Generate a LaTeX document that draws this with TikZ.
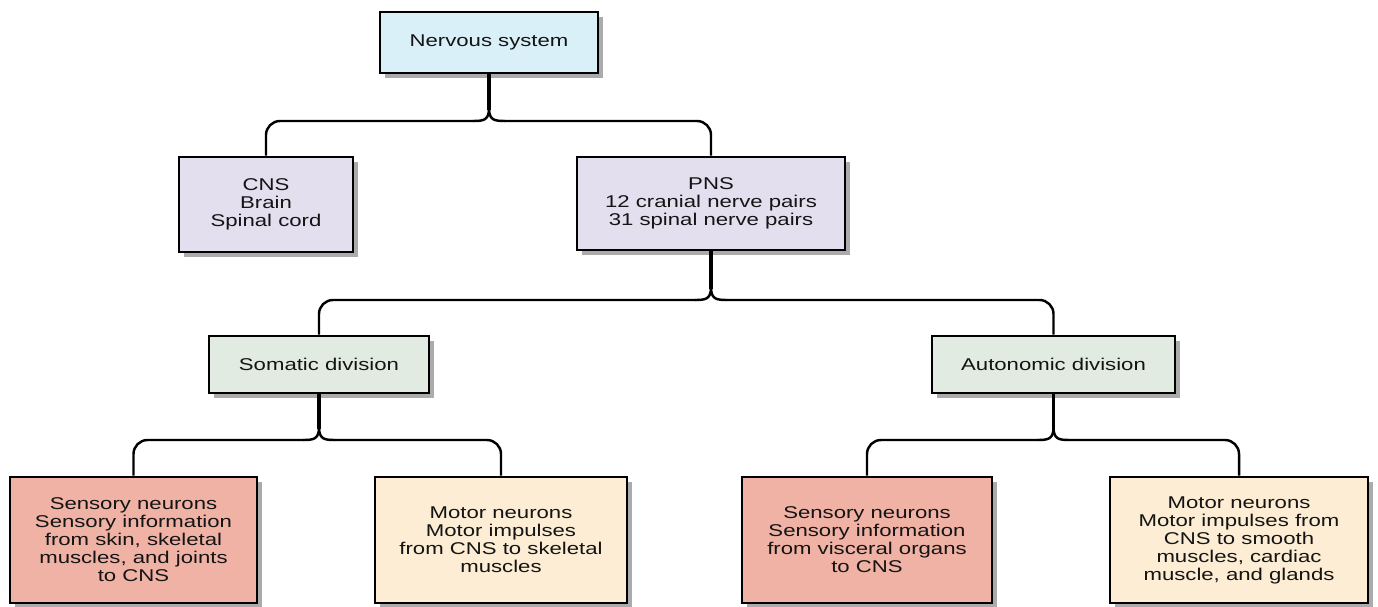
\documentclass[tikz,border=0pt]{standalone}
\usepackage{fontspec}
\setmainfont{Liberation Sans}[FakeStretch=1.3]
\usetikzlibrary{shadows}
\definecolor{nsblue}{RGB}{218,240,248}
\definecolor{cnslilac}{RGB}{227,223,238}
\definecolor{divgreen}{RGB}{226,235,225}
\definecolor{senspink}{RGB}{239,178,164}
\definecolor{motcream}{RGB}{252,237,212}
\tikzset{
  box/.style={draw, line width=1.5pt, align=center, inner sep=0pt, text=black!92,
    font=\fontsize{9.7}{10.24}\selectfont,
    drop shadow={shadow xshift=0.1cm, shadow yshift=-0.1cm, opacity=1, fill=black!33}},
  link/.style={line width=1.4pt},
  stem/.style={line width=1.9pt},
}
\newcommand{\forkdown}[4]{%
  \draw[stem] (#1.south) -- ([yshift=0.22cm]#2);
  \draw[link, rounded corners=0.28cm] (#3.north) -- (#3.north |- #2) -- ([xshift=-0.3cm]#2);
  \draw[link, rounded corners=0.28cm] (#4.north) -- (#4.north |- #2) -- ([xshift=0.3cm]#2);
  \draw[link] ([xshift=-0.32cm]#2) .. controls ([xshift=-0.1cm]#2) and ([yshift=0.02cm]#2) .. ([yshift=0.26cm]#2);
  \draw[link] ([xshift=0.32cm]#2) .. controls ([xshift=0.1cm]#2) and ([yshift=0.02cm]#2) .. ([yshift=0.26cm]#2);
}
\begin{document}
\begin{tikzpicture}[x=0.02cm, y=-0.02cm]
  \useasboundingbox (0,0) rectangle (1378,606);
  \node[box, fill=nsblue, minimum width=4.36cm, minimum height=1.22cm] (ns) at (489,42.5) {Nervous system};
  \node[box, fill=cnslilac, minimum width=3.48cm, minimum height=1.9cm] (cns) at (266,204.5) {CNS\\Brain\\Spinal cord};
  \node[box, fill=cnslilac, minimum width=5.36cm, minimum height=1.86cm] (pns) at (711,203.5) {PNS\\12 cranial nerve pairs\\31 spinal nerve pairs};
  \node[box, fill=divgreen, minimum width=4.4cm, minimum height=1.14cm] (som) at (319,364.5) {Somatic division};
  \node[box, fill=divgreen, minimum width=4.86cm, minimum height=1.14cm] (aut) at (1053.5,364.5) {Autonomic division};
  \node[box, fill=senspink, minimum width=4.94cm, minimum height=2.52cm] (sens) at (133.5,540) {Sensory neurons\\Sensory information\\from skin, skeletal\\muscles, and joints\\to CNS};
  \node[box, fill=motcream, minimum width=5.04cm, minimum height=2.52cm] (mots) at (501,540) {Motor neurons\\Motor impulses\\from CNS to skeletal\\muscles};
  \node[box, fill=senspink, minimum width=5cm, minimum height=2.52cm] (sena) at (867,540) {Sensory neurons\\Sensory information\\from visceral organs\\to CNS};
  \node[box, fill=motcream, minimum width=5.16cm, minimum height=2.52cm] (mota) at (1239,540) {Motor neurons\\Motor impulses from\\CNS to smooth\\muscles, cardiac\\muscle, and glands};

  \coordinate (j1) at (489,121);
  \coordinate (j2) at (711,300);
  \coordinate (j3) at (319,440);
  \coordinate (j4) at (1053.5,440);
  \forkdown{ns}{j1}{cns}{pns}
  \forkdown{pns}{j2}{som}{aut}
  \forkdown{som}{j3}{sens}{mots}
  \forkdown{aut}{j4}{sena}{mota}
\end{tikzpicture}
\end{document}
